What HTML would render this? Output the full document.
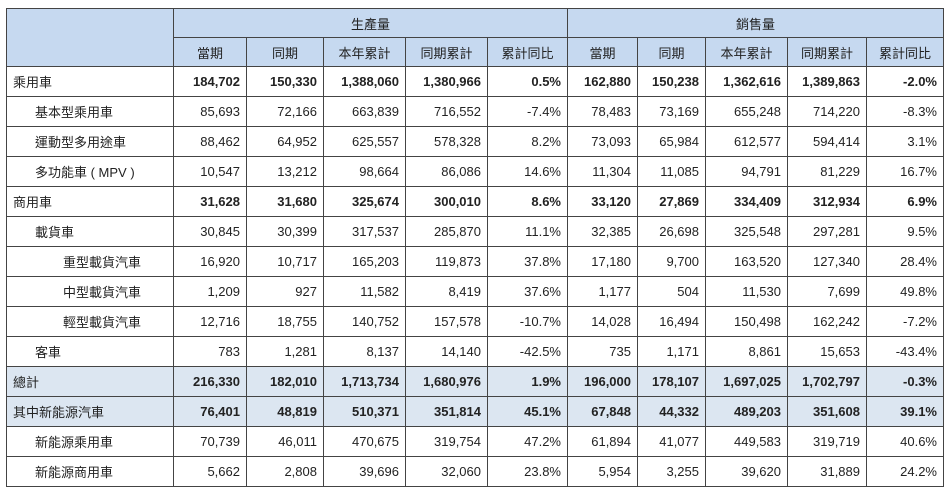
<!DOCTYPE html>
<html><head><meta charset="utf-8"><style>
body{margin:0;background:#fff;width:947px;height:480px;overflow:hidden}
table{position:absolute;left:6px;top:8px;border-collapse:collapse;table-layout:fixed;font-family:"Liberation Sans","Noto Sans CJK TC",sans-serif;font-size:13px;color:#222}
td,th{border:1px solid #444;height:29px;padding:0 6px;white-space:nowrap;text-align:right;font-weight:normal}
th{background:#c6d9f0;text-align:center;height:28px}
td.l{text-align:left;font-weight:normal!important}
.i1{padding-left:28px}.i2{padding-left:56px}
tr.b td{font-weight:bold}
tr.h td{background:#dce6f1}
</style></head><body>
<table>
<colgroup><col style="width:167px"><col style="width:73px"><col style="width:77px"><col style="width:82px"><col style="width:82px"><col style="width:80px"><col style="width:70px"><col style="width:68px"><col style="width:82px"><col style="width:79px"><col style="width:77px"></colgroup>
<tr><th rowspan="2"></th><th colspan="5">生產量</th><th colspan="5">銷售量</th></tr>
<tr><th>當期</th><th>同期</th><th>本年累計</th><th>同期累計</th><th>累計同比</th><th>當期</th><th>同期</th><th>本年累計</th><th>同期累計</th><th>累計同比</th></tr>
<tr class="b"><td class="l">乘用車</td><td>184,702</td><td>150,330</td><td>1,388,060</td><td>1,380,966</td><td>0.5%</td><td>162,880</td><td>150,238</td><td>1,362,616</td><td>1,389,863</td><td>-2.0%</td></tr>
<tr><td class="l i1">基本型乘用車</td><td>85,693</td><td>72,166</td><td>663,839</td><td>716,552</td><td>-7.4%</td><td>78,483</td><td>73,169</td><td>655,248</td><td>714,220</td><td>-8.3%</td></tr>
<tr><td class="l i1">運動型多用途車</td><td>88,462</td><td>64,952</td><td>625,557</td><td>578,328</td><td>8.2%</td><td>73,093</td><td>65,984</td><td>612,577</td><td>594,414</td><td>3.1%</td></tr>
<tr><td class="l i1">多功能車 ( MPV )</td><td>10,547</td><td>13,212</td><td>98,664</td><td>86,086</td><td>14.6%</td><td>11,304</td><td>11,085</td><td>94,791</td><td>81,229</td><td>16.7%</td></tr>
<tr class="b"><td class="l">商用車</td><td>31,628</td><td>31,680</td><td>325,674</td><td>300,010</td><td>8.6%</td><td>33,120</td><td>27,869</td><td>334,409</td><td>312,934</td><td>6.9%</td></tr>
<tr><td class="l i1">載貨車</td><td>30,845</td><td>30,399</td><td>317,537</td><td>285,870</td><td>11.1%</td><td>32,385</td><td>26,698</td><td>325,548</td><td>297,281</td><td>9.5%</td></tr>
<tr><td class="l i2">重型載貨汽車</td><td>16,920</td><td>10,717</td><td>165,203</td><td>119,873</td><td>37.8%</td><td>17,180</td><td>9,700</td><td>163,520</td><td>127,340</td><td>28.4%</td></tr>
<tr><td class="l i2">中型載貨汽車</td><td>1,209</td><td>927</td><td>11,582</td><td>8,419</td><td>37.6%</td><td>1,177</td><td>504</td><td>11,530</td><td>7,699</td><td>49.8%</td></tr>
<tr><td class="l i2">輕型載貨汽車</td><td>12,716</td><td>18,755</td><td>140,752</td><td>157,578</td><td>-10.7%</td><td>14,028</td><td>16,494</td><td>150,498</td><td>162,242</td><td>-7.2%</td></tr>
<tr><td class="l i1">客車</td><td>783</td><td>1,281</td><td>8,137</td><td>14,140</td><td>-42.5%</td><td>735</td><td>1,171</td><td>8,861</td><td>15,653</td><td>-43.4%</td></tr>
<tr class="b h"><td class="l">總計</td><td>216,330</td><td>182,010</td><td>1,713,734</td><td>1,680,976</td><td>1.9%</td><td>196,000</td><td>178,107</td><td>1,697,025</td><td>1,702,797</td><td>-0.3%</td></tr>
<tr class="b h"><td class="l">其中新能源汽車</td><td>76,401</td><td>48,819</td><td>510,371</td><td>351,814</td><td>45.1%</td><td>67,848</td><td>44,332</td><td>489,203</td><td>351,608</td><td>39.1%</td></tr>
<tr><td class="l i1">新能源乘用車</td><td>70,739</td><td>46,011</td><td>470,675</td><td>319,754</td><td>47.2%</td><td>61,894</td><td>41,077</td><td>449,583</td><td>319,719</td><td>40.6%</td></tr>
<tr><td class="l i1">新能源商用車</td><td>5,662</td><td>2,808</td><td>39,696</td><td>32,060</td><td>23.8%</td><td>5,954</td><td>3,255</td><td>39,620</td><td>31,889</td><td>24.2%</td></tr>
</table>
</body></html>
